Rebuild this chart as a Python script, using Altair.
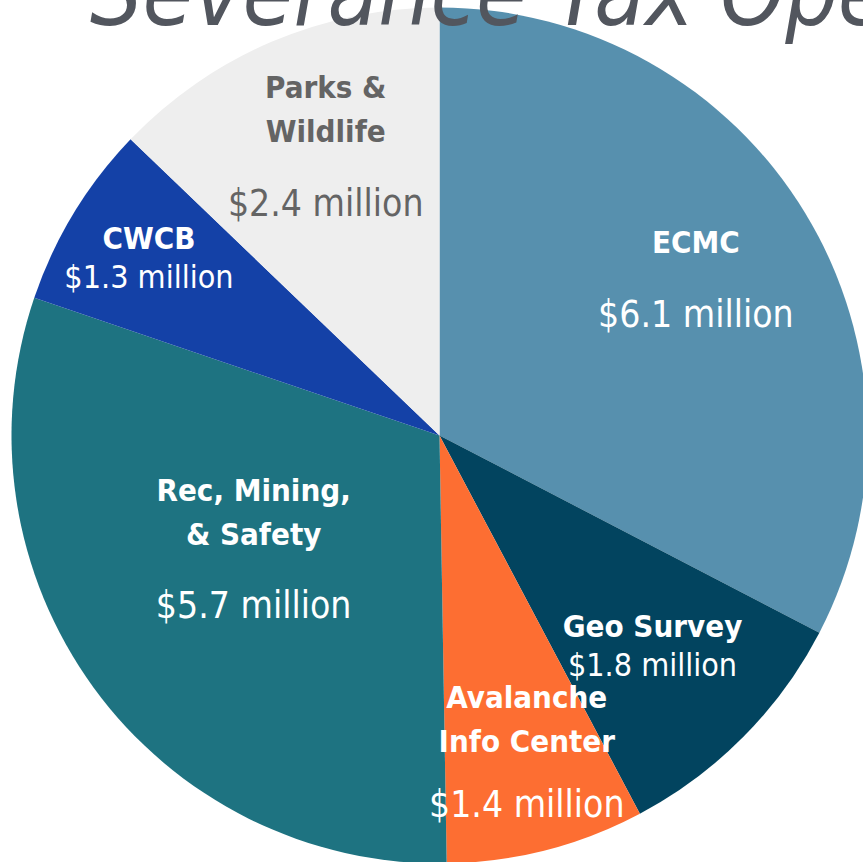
import altair as alt
import pandas as pd

# Severance tax distribution by recipient, clockwise from 12 o'clock
categories = ["ECMC", "Geo Survey", "Avalanche Info Center",
              "Rec, Mining, & Safety", "CWCB", "Parks & Wildlife"]
amounts = [6.1, 1.8, 1.4, 5.7, 1.3, 2.4]
name_lines = [["ECMC"], ["Geo Survey"], ["Avalanche", "Info Center"],
              ["Rec, Mining,", "& Safety"], ["CWCB"], ["Parks &", "Wildlife"]]
colors = ["#5790AE", "#02445F", "#FD6E32", "#1E7381", "#1441A7", "#EEEEEE"]
title_text = "Severance Tax Operational Fund"

FONT = "DejaVu Sans Condensed"
CX, CY, R = 439.5, 435.5, 428
NAME_LH = 44  # line height of the bold names

# per-slice label styling: distance from centre, name-to-amount spacing,
# amount font size and text colour
label_radius = [300, 300, 350, 230, 340, 290]
pair_gap = [72, 38, 63, 71, 38, 72]
amount_size = [37, 32, 37, 37, 32, 37]
label_color = ["white"] * 5 + ["#646464"]

df = pd.DataFrame({
    "idx": list(range(len(categories))),
    "category": categories,
    "value": amounts,
    "name": ["\n".join(lines) for lines in name_lines],
    "amount": [f"${v} million" for v in amounts],
})

base = alt.Chart(df).encode(
    theta=alt.Theta("value:Q", stack=True),
    order=alt.Order("idx:Q", sort="ascending"),
    x=alt.value(CX),
    y=alt.value(CY),
)

pie = base.mark_arc(radius=R).encode(
    color=alt.Color("category:N",
                    scale=alt.Scale(domain=categories, range=colors),
                    legend=None)
)

labels = []
for i in range(len(categories)):
    sel = f"datum.idx == {i}"
    n = len(name_lines[i])
    # multi-line names grow downward from the anchor, so lift them by
    # the extra lines to keep the last line just above the amount
    names = base.mark_text(
        radius=label_radius[i], font=FONT, fontWeight="bold", fontSize=31,
        lineBreak="\n", lineHeight=NAME_LH, align="center", baseline="middle",
        dy=-pair_gap[i] / 2 - (n - 1) * NAME_LH,
        color=label_color[i],
    ).encode(text=alt.condition(sel, alt.Text("name:N"), alt.value("")))
    money = base.mark_text(
        radius=label_radius[i], font=FONT, fontWeight="normal",
        fontSize=amount_size[i], align="center", baseline="middle",
        dy=pair_gap[i] / 2,
        color=label_color[i],
    ).encode(text=alt.condition(sel, alt.Text("amount:N"), alt.value("")))
    labels += [names, money]

title = alt.Chart(pd.DataFrame({"t": [title_text]})).mark_text(
    font=FONT, fontStyle="italic", fontSize=92, color="#52565E",
    align="left", baseline="alphabetic",
).encode(x=alt.value(90), y=alt.value(25), text="t:N")

chart = alt.layer(pie, *labels, title).properties(
    width=863, height=862,
    autosize=alt.AutoSizeParams(type="none"),
    padding=0,
    background="white",
).configure_view(stroke=None)

chart.save("out.html", embed_options={"renderer": "svg", "actions": False})
